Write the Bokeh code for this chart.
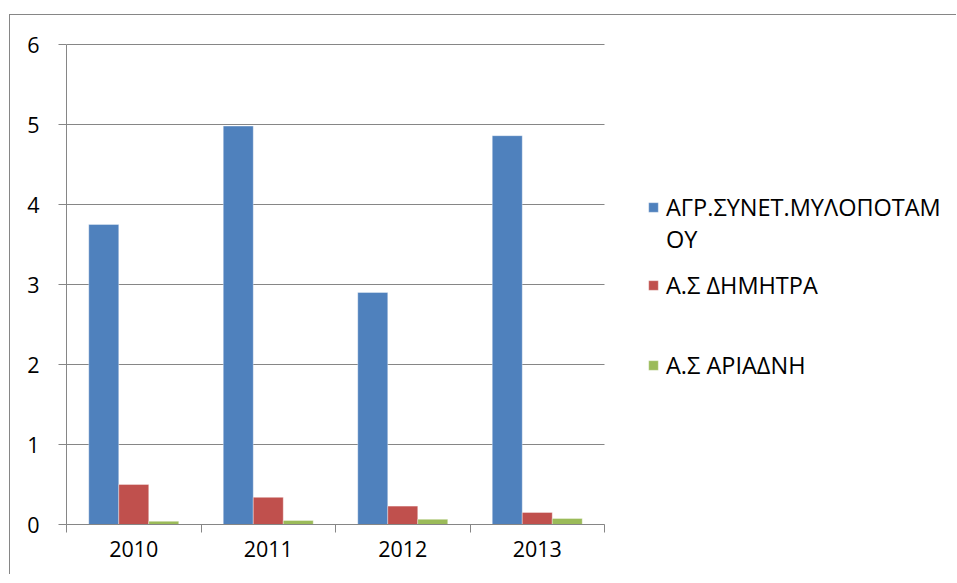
from bokeh.plotting import figure
from bokeh.models import FixedTicker, Legend, LegendItem, Range1d
from bokeh.embed import file_html
from bokeh.resources import INLINE

# ---- data ----
years = ["2010", "2011", "2012", "2013"]
agr_mylopotamou = [3.75, 4.98, 2.90, 4.86]
as_dimitra = [0.50, 0.34, 0.23, 0.15]
as_ariadni = [0.04, 0.05, 0.065, 0.075]
series_labels = ["ΑΓΡ.ΣΥΝΕΤ.ΜΥΛΟΠΟΤΑΜΟΥ", "Α.Σ ΔΗΜΗΤΡΑ", "Α.Σ ΑΡΙΑΔΝΗ"]
y_ticks = [0, 1, 2, 3, 4, 5, 6]

colors = ["#4F81BD", "#C0504D", "#9BBB59"]
FONT = "Open Sans"
GRAY = "#868686"

n = len(years)
bar_w = 0.223
centers = [i + 0.5 for i in range(n)]

W, H = 947, 560
LEFT, TOP, BOTTOM = 56, 28, 51
frame_w = W - LEFT
x_end = n * frame_w / 538.0   # plotted categories occupy 538 px, legend sits to the right

p = figure(width=W, height=H, output_backend="svg", toolbar_location=None,
           x_range=Range1d(0, x_end), y_range=Range1d(0, 6.0125),
           min_border_left=LEFT, min_border_right=0, min_border_top=TOP,
           min_border_bottom=BOTTOM)
p.styles = {"border-left": "1px solid #868686", "border-top": "1px solid #868686",
            "margin-top": "14px", "margin-left": "9px"}
p.outline_line_color = None
p.background_fill_color = "white"

# horizontal gridlines over the category area only
p.segment(x0=[0] * len(y_ticks), x1=[n] * len(y_ticks), y0=y_ticks, y1=y_ticks,
          line_color=GRAY, line_width=1)

renderers = []
for k, vals in enumerate([agr_mylopotamou, as_dimitra, as_ariadni]):
    xs = [c + (k - 1) * bar_w for c in centers]
    r = p.vbar(x=xs, top=vals, bottom=0, width=bar_w, fill_color=colors[k],
               line_color="white", line_alpha=0.35, line_width=1)
    renderers.append(r)

dummy = p.vbar(x=[0.5], top=[0], bottom=0, width=0, fill_alpha=0, line_alpha=0)

# y axis
p.yaxis.ticker = FixedTicker(ticks=y_ticks)
p.yaxis.axis_line_color = GRAY
p.yaxis.bounds = (0, 6)
p.yaxis.major_tick_line_color = GRAY
p.yaxis.major_tick_out = 8
p.yaxis.major_tick_in = 0
p.yaxis.minor_tick_line_color = None
p.yaxis.major_label_text_font = FONT
p.yaxis.major_label_text_font_size = "21.5px"
p.yaxis.major_label_text_color = "black"
p.yaxis.major_label_standoff = 19

# x axis: labels at centres, tick marks at category boundaries
p.xaxis.ticker = FixedTicker(ticks=centers, minor_ticks=list(range(n + 1)))
p.xaxis.bounds = (0, n)
p.xaxis.major_label_overrides = {c: y for c, y in zip(centers, years)}
p.xaxis.axis_line_color = GRAY
p.xaxis.major_tick_line_color = None
p.xaxis.minor_tick_line_color = GRAY
p.xaxis.minor_tick_out = 8
p.xaxis.minor_tick_in = 0
p.xaxis.major_label_text_font = FONT
p.xaxis.major_label_text_font_size = "21.5px"
p.xaxis.major_label_text_color = "black"
p.xaxis.major_label_standoff = 8

p.grid.grid_line_color = None

common = dict(orientation="vertical", glyph_width=12, glyph_height=12,
              label_height=28, padding=0, margin=0, label_standoff=7,
              label_text_font=FONT, label_text_font_size="23.5px",
              label_text_color="black", border_line_color=None,
              background_fill_alpha=0)

legend_a = Legend(items=[
    LegendItem(label="ΑΓΡ.ΣΥΝΕΤ.ΜΥΛΟΠΟΤΑΜ", renderers=[renderers[0]]),
    LegendItem(label="ΟΥ", renderers=[dummy]),
], location=(581, 269), spacing=0, **common)

legend_b = Legend(items=[
    LegendItem(label=series_labels[1], renderers=[renderers[1]]),
    LegendItem(label=series_labels[2], renderers=[renderers[2]]),
], location=(581, 143), spacing=48, **common)

p.add_layout(legend_a, "center")
p.add_layout(legend_b, "center")

open("out.html", "w").write(file_html(p, INLINE))
